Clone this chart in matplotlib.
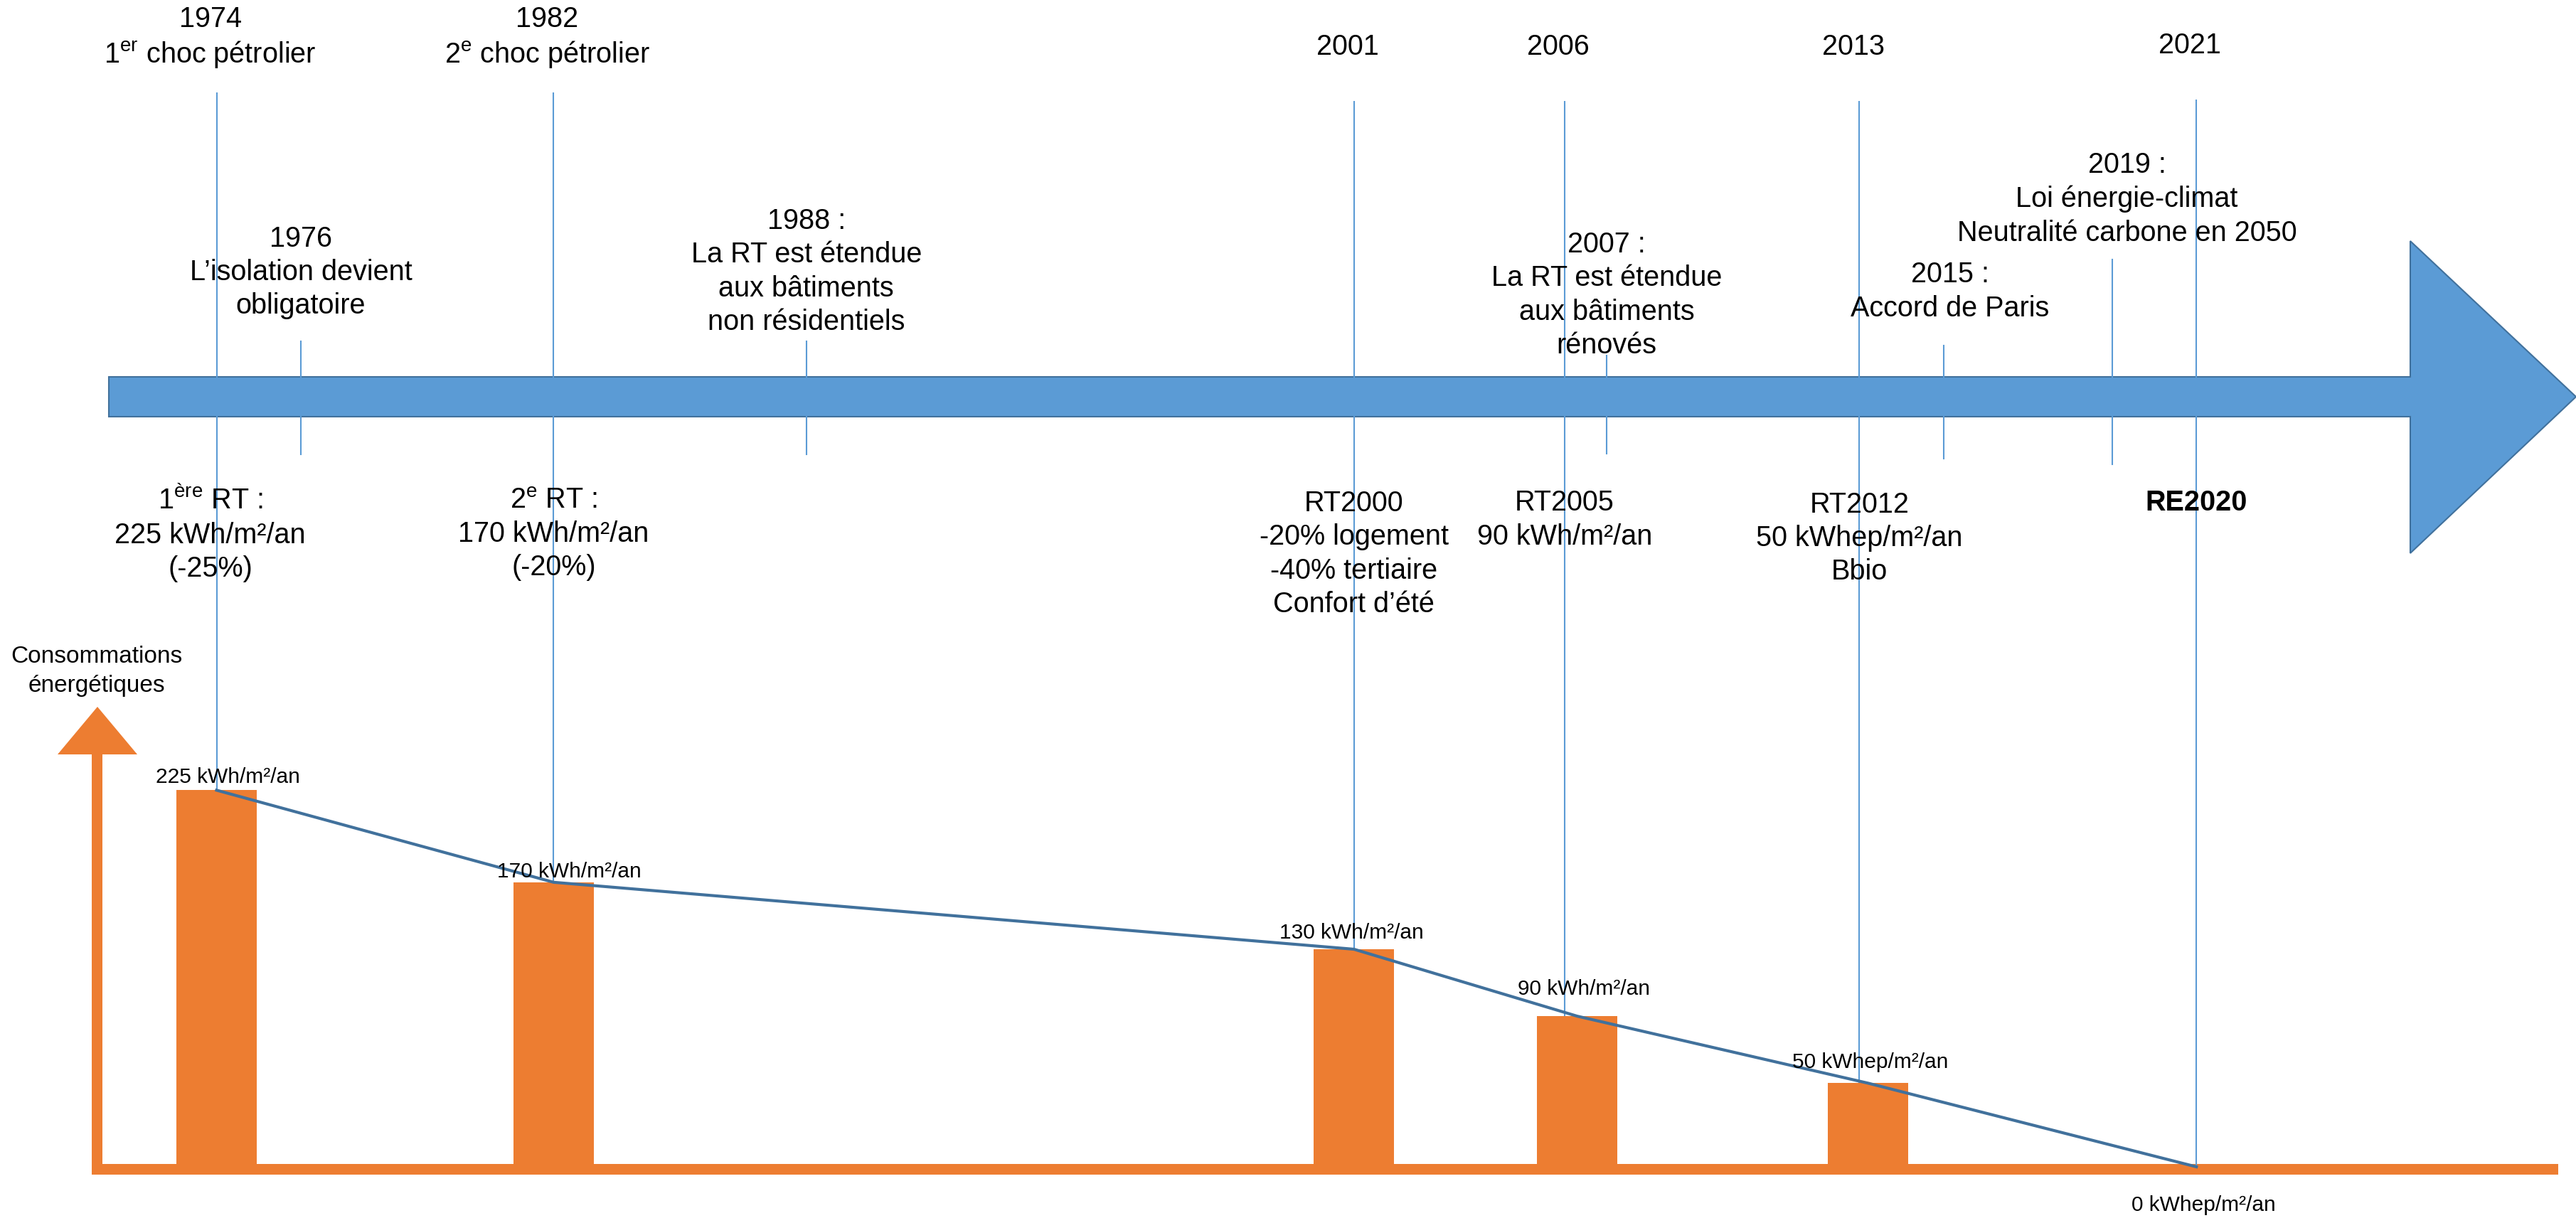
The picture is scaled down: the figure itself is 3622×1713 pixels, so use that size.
import matplotlib.pyplot as plt
import matplotlib.transforms as mtransforms
from matplotlib.patches import Polygon, Rectangle

plt.rcParams['font.family'] = ['Liberation Sans', 'DejaVu Sans']
plt.rcParams['mathtext.fontset'] = 'custom'
plt.rcParams['mathtext.rm'] = 'Liberation Sans'
plt.rcParams['mathtext.it'] = 'Liberation Sans:italic'
plt.rcParams['mathtext.bf'] = 'Liberation Sans:bold'

# ---- data ----
rt_years = [1974, 1982, 2001, 2006, 2013, 2021]
rt_values = [225, 170, 130, 90, 50, 0]
rt_value_labels = ["225 kWh/m²/an", "170 kWh/m²/an", "130 kWh/m²/an",
                   "90 kWh/m²/an", "50 kWhep/m²/an", "0 kWhep/m²/an"]
top_labels = ["1974\n1$^{\\mathrm{er}}$ choc pétrolier",
              "1982\n2$^{\\mathrm{e}}$ choc pétrolier",
              "2001", "2006", "2013", "2021"]
rt_labels = ["1$^{\\mathrm{ère}}$ RT :\n225 kWh/m²/an\n(-25%)",
             "2$^{\\mathrm{e}}$ RT :\n170 kWh/m²/an\n(-20%)",
             "RT2000\n-20% logement\n-40% tertiaire\nConfort d’été",
             "RT2005\n90 kWh/m²/an",
             "RT2012\n50 kWhep/m²/an\nBbio",
             "RE2020"]
event_years = [1976, 1988, 2007, 2015, 2019]
event_labels = ["1976\nL’isolation devient\nobligatoire",
                "1988 :\nLa RT est étendue\naux bâtiments\nnon résidentiels",
                "2007 :\nLa RT est étendue\naux bâtiments\nrénovés",
                "2015 :\nAccord de Paris",
                "2019 :\nLoi énergie-climat\nNeutralité carbone en 2050"]

# ---- layout (pixels of the 3622x1713 picture) ----
W, H, DPI = 3622, 1713, 100
X_1974, PX_YEAR = 304.5, 59.23
BASE_PX, PX_KWH = 1641, 2.354
BIG, SMALL = 28.5, 21.5
LS = 1.31
ORANGE = '#ED7D31'
BLUE = '#5B9BD5'
DARK = '#41719C'

top_y = [53, 53, 66, 66, 66, 64]
line_top = [130, 130, 142, 142, 142, 140]
rt_y = [751, 751, 779, 731, 757, 707]
rt_dx = [-0.15, 0.0, 0.0, 0.0, 0.0, 0.0]
event_y = [383, 382, 415, 410, 280]
event_dx = [0.0, 0.0, 0.0, 0.15, 0.35]
event_line = [(480, 639), (480, 639), (500, 638), (486, 645), (365, 653)]
bar_shift = [0, 0, 0, 0.3, 0.2, 0]
lab_dx = [16, 22, -3, 9, 3, 10]
lab_dy = [18, 15, 23, 38, 29, -54]


def year_at(px):
    return 1974 + (px - X_1974) / PX_YEAR


fig = plt.figure(figsize=(W / DPI, H / DPI), dpi=DPI)
ax = fig.add_axes([0, 0, 1, 1])
ax.set_xlim(0, W)
ax.set_ylim(H, 0)
ax.axis('off')

bx = fig.add_axes([0, 0, 1, 1])
bx.set_xlim(year_at(0), year_at(W))
bx.set_ylim(-(H - BASE_PX) / PX_KWH, BASE_PX / PX_KWH)
bx.axis('off')
bx.patch.set_alpha(0)

tl = mtransforms.blended_transform_factory(bx.transData, ax.transData)


def px_to_kwh(p):
    return bx.transData.inverted().transform(ax.transData.transform((0, p)))[1]


# timeline arrow
ax.add_patch(Polygon([(153, 530), (3389, 530), (3389, 339), (3622, 558),
                      (3389, 778), (3389, 586), (153, 586)],
                     closed=True, fc=BLUE, ec=DARK, lw=1.5, zorder=1))

# consumption axis
ax.add_patch(Rectangle((129, 1061), 15, 591, fc=ORANGE, ec='none'))
ax.add_patch(Rectangle((129, 1637), 3468, 15, fc=ORANGE, ec='none'))
ax.add_patch(Polygon([(81, 1061), (193, 1061), (137, 994)], closed=True,
                     fc=ORANGE, ec='none'))
ax.text(136, 944, "Consommations\nénergétiques", ha='center', va='center',
        fontsize=24, linespacing=1.4)

# vertical lines for each regulation
tops = [px_to_kwh(p) for p in line_top]
bx.vlines(rt_years, rt_values, tops, color=BLUE, lw=1.5, zorder=2)
for yr, (a, b) in zip(event_years, event_line):
    bx.plot([yr, yr], [a, b], transform=tl, color=BLUE, lw=1.5, zorder=2)

# bars and trend line
bar_x = [y + s for y, s in zip(rt_years, bar_shift)]
bx.bar(bar_x[:5], rt_values[:5], width=1.91, color=ORANGE, zorder=3)
bx.plot(bar_x, rt_values, color=DARK, lw=3, zorder=4)

for x, v, s, dx, dy in zip(bar_x, rt_values, rt_value_labels, lab_dx, lab_dy):
    bx.annotate(s, (x, v), xytext=(dx, dy), textcoords='offset pixels',
                ha='center', va='center', fontsize=SMALL, zorder=5)

# texts
for yr, s, y in zip(rt_years, top_labels, top_y):
    bx.text(yr - 0.15, y, s, transform=tl, ha='center', va='center',
            fontsize=BIG, linespacing=1.3)
for i, (yr, s, y) in enumerate(zip(rt_years, rt_labels, rt_y)):
    bx.text(yr + rt_dx[i], y, s, transform=tl, ha='center', va='center',
            fontsize=BIG, linespacing=LS,
            fontweight='bold' if s == "RE2020" else 'normal')
for yr, s, y, dx in zip(event_years, event_labels, event_y, event_dx):
    bx.text(yr + dx, y, s, transform=tl, ha='center', va='center',
            fontsize=BIG, linespacing=LS)

fig.savefig('out.png', dpi=DPI)
